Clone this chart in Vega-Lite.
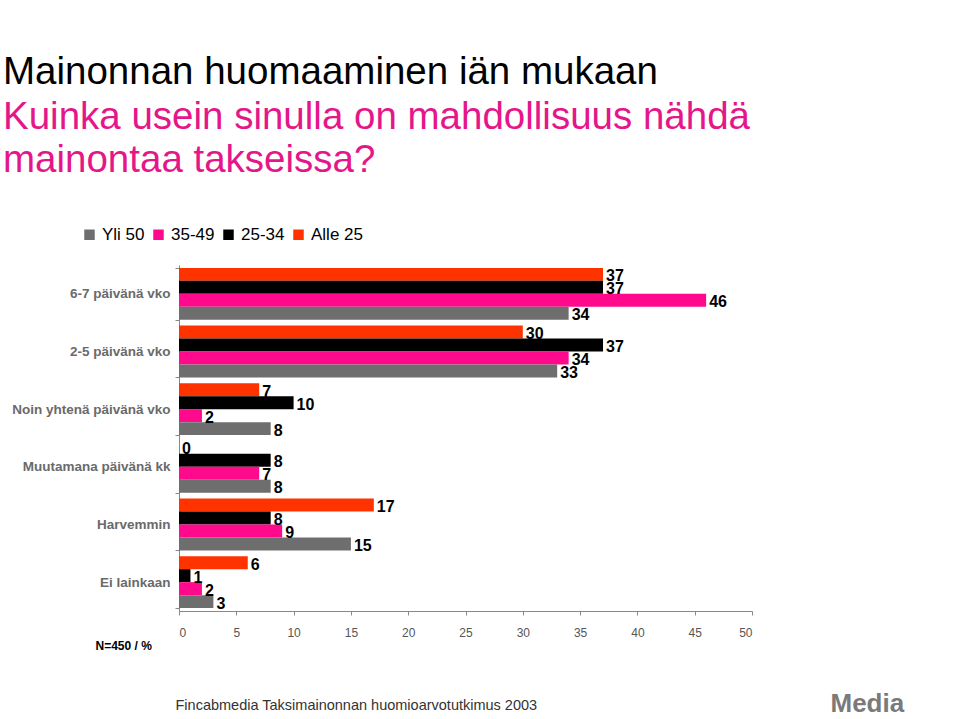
{
  "$schema": "https://vega.github.io/schema/vega-lite/v6.json",
  "width": 573,
  "height": 346,
  "autosize": {"type": "none"},
  "padding": {"left": 179, "top": 265, "right": 207, "bottom": 108},
  "background": "white",
  "title": {
    "text": "Mainonnan huomaaminen iän mukaan",
    "subtitle": ["Kuinka usein sinulla on mahdollisuus nähdä", "mainontaa takseissa?"],
    "anchor": "start",
    "frame": "group",
    "dx": -176,
    "offset": 46,
    "font": "Liberation Sans, sans-serif",
    "fontSize": 38.5,
    "fontWeight": "normal",
    "color": "#000000",
    "subtitleFont": "Liberation Sans, sans-serif",
    "subtitleFontSize": 38.5,
    "subtitleColor": "#e5168a",
    "subtitleLineHeight": 43,
    "subtitlePadding": 6
  },
  "config": {
    "view": {"stroke": null},
    "font": "Liberation Sans"
  },
  "data": {
    "values": [
      {"kat": "6-7 päivänä vko", "ika": "Alle 25", "arvo": 37},
      {"kat": "6-7 päivänä vko", "ika": "25-34", "arvo": 37},
      {"kat": "6-7 päivänä vko", "ika": "35-49", "arvo": 46},
      {"kat": "6-7 päivänä vko", "ika": "Yli 50", "arvo": 34},
      {"kat": "2-5 päivänä vko", "ika": "Alle 25", "arvo": 30},
      {"kat": "2-5 päivänä vko", "ika": "25-34", "arvo": 37},
      {"kat": "2-5 päivänä vko", "ika": "35-49", "arvo": 34},
      {"kat": "2-5 päivänä vko", "ika": "Yli 50", "arvo": 33},
      {"kat": "Noin yhtenä päivänä vko", "ika": "Alle 25", "arvo": 7},
      {"kat": "Noin yhtenä päivänä vko", "ika": "25-34", "arvo": 10},
      {"kat": "Noin yhtenä päivänä vko", "ika": "35-49", "arvo": 2},
      {"kat": "Noin yhtenä päivänä vko", "ika": "Yli 50", "arvo": 8},
      {"kat": "Muutamana päivänä kk", "ika": "Alle 25", "arvo": 0},
      {"kat": "Muutamana päivänä kk", "ika": "25-34", "arvo": 8},
      {"kat": "Muutamana päivänä kk", "ika": "35-49", "arvo": 7},
      {"kat": "Muutamana päivänä kk", "ika": "Yli 50", "arvo": 8},
      {"kat": "Harvemmin", "ika": "Alle 25", "arvo": 17},
      {"kat": "Harvemmin", "ika": "25-34", "arvo": 8},
      {"kat": "Harvemmin", "ika": "35-49", "arvo": 9},
      {"kat": "Harvemmin", "ika": "Yli 50", "arvo": 15},
      {"kat": "Ei lainkaan", "ika": "Alle 25", "arvo": 6},
      {"kat": "Ei lainkaan", "ika": "25-34", "arvo": 1},
      {"kat": "Ei lainkaan", "ika": "35-49", "arvo": 2},
      {"kat": "Ei lainkaan", "ika": "Yli 50", "arvo": 3}
    ]
  },
  "encoding": {
    "y": {
      "field": "kat",
      "type": "nominal",
      "sort": null,
      "scale": {"paddingInner": 0.1, "paddingOuter": 0.05}
    },
    "yOffset": {"field": "ika", "sort": ["Alle 25", "25-34", "35-49", "Yli 50"]},
    "x": {
      "field": "arvo",
      "type": "quantitative",
      "scale": {"domain": [0, 50], "nice": false},
      "axis": {
        "values": [0, 5, 10, 15, 20, 25, 30, 35, 40, 45, 50],
        "grid": false,
        "domainColor": "#888888",
        "tickColor": "#888888",
        "tickSize": 4,
        "labelFont": "Liberation Sans",
        "labelFontSize": 12,
        "labelColor": "#555555",
        "labelPadding": 12,
        "title": "Fincabmedia Taksimainonnan huomioarvotutkimus 2003",
        "titleFont": "Liberation Sans",
        "titleFontSize": 14.5,
        "titleFontWeight": "normal",
        "titleColor": "#333333",
        "titleAnchor": "start",
        "titleAlign": "left",
        "titleBaseline": "alphabetic",
        "titleX": -4,
        "titleY": 98
      }
    }
  },
  "resolve": {"axis": {"y": "independent"}},
  "layer": [
    {
      "mark": {"type": "bar"},
      "encoding": {
        "color": {
          "field": "ika",
          "type": "nominal",
          "scale": {
            "domain": ["Yli 50", "35-49", "25-34", "Alle 25"],
            "range": ["#6e6e6e", "#ff0a8c", "#000000", "#ff3300"]
          },
          "legend": {
            "title": null,
            "orient": "none",
            "direction": "horizontal",
            "legendX": -98,
            "legendY": -39,
            "symbolType": "square",
            "symbolSize": 110,
            "symbolStrokeWidth": 0,
            "symbolOpacity": 1,
            "labelFont": "Liberation Sans",
            "labelFontSize": 17,
            "labelColor": "#000000",
            "labelOffset": 4,
            "columnPadding": 5
          }
        },
        "y": {
          "field": "kat",
          "type": "nominal",
          "sort": null,
          "axis": {
            "title": "N=450 / %",
            "titleAngle": 0,
            "titleAlign": "left",
            "titleBaseline": "alphabetic",
            "titleX": -84,
            "titleY": 384,
            "titleFont": "Liberation Sans",
            "titleFontSize": 12,
            "titleFontWeight": "bold",
            "titleColor": "#000000",
            "domainColor": "#888888",
            "tickColor": "#888888",
            "tickBand": "extent",
            "tickSize": 4,
            "labelPadding": 5,
            "labelFont": "Liberation Sans",
            "labelFontSize": 13.5,
            "labelFontWeight": "bold",
            "labelColor": "#6a6a6a",
            "labelLimit": 200
          }
        }
      }
    },
    {
      "mark": {
        "type": "text",
        "align": "left",
        "baseline": "middle",
        "dx": 3,
        "dy": 2,
        "font": "Liberation Sans",
        "fontSize": 16,
        "fontWeight": "bold",
        "color": "#000000"
      },
      "encoding": {
        "text": {"field": "arvo", "type": "quantitative"},
        "y": {
          "field": "kat",
          "type": "nominal",
          "sort": null,
          "axis": {
            "orient": "right",
            "labels": false,
            "ticks": false,
            "domain": false,
            "title": "Media",
            "titleAngle": 0,
            "titleAlign": "left",
            "titleBaseline": "alphabetic",
            "titleX": 78,
            "titleY": 446,
            "titleFont": "Liberation Sans",
            "titleFontSize": 26,
            "titleFontWeight": "bold",
            "titleColor": "#7a7a7a"
          }
        }
      }
    }
  ]
}
